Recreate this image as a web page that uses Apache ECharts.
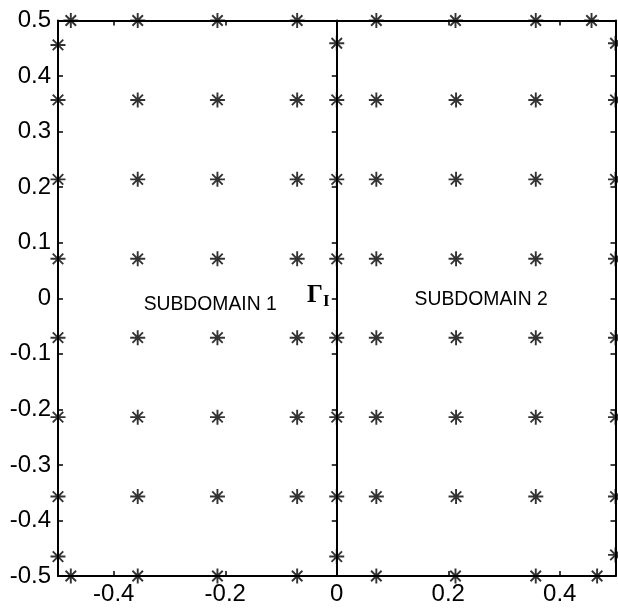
<!DOCTYPE html>
<html>
<head>
<meta charset="utf-8">
<script src="https://cdn.jsdelivr.net/npm/echarts@6/dist/echarts.min.js"></script>
<style>html,body{margin:0;padding:0;background:#fff}#c{width:618px;height:609px}</style>
</head>
<body>
<div id="c"></div>
<script>
// ---- data ----
const xTickValues = [-0.4, -0.2, 0, 0.2, 0.4];
const gridX = [-0.357, -0.214, -0.071, 0.071, 0.214, 0.357];
const gridY = [0.357, 0.214, 0.071, -0.071, -0.214, -0.357];
const topRowX = [-0.477, -0.357, -0.214, -0.071, 0.071, 0.213, 0.357, 0.457];   // at y = 0.5
const bottomRowX = [-0.477, -0.357, -0.214, -0.071, 0.071, 0.213, 0.357, 0.467]; // at y = -0.5
const leftColY = [0.456, 0.357, 0.214, 0.071, -0.071, -0.214, -0.357, -0.465];  // at x = -0.5
const midColY = [0.459, 0.357, 0.214, 0.071, -0.071, -0.214, -0.357, -0.465];   // at x = 0
const rightColY = [0.459, 0.357, 0.214, 0.071, -0.071, -0.214, -0.357, -0.462]; // at x = 0.5
const labels = [
  { text: 'SUBDOMAIN 1', x: -0.227, y: -0.01 },
  { text: 'SUBDOMAIN 2', x: 0.259, y: -0.001 }
];
const gammaPos = { x: -0.013, y: 0.004 };

// ---- build points ----
const points = [];
gridX.forEach(x => gridY.forEach(y => points.push([x, y])));
topRowX.forEach(x => points.push([x, 0.5]));
bottomRowX.forEach(x => points.push([x, -0.5]));
leftColY.forEach(y => points.push([-0.5, y]));
midColY.forEach(y => points.push([0, y]));
rightColY.forEach(y => points.push([0.5, y]));

const FONT = '"Liberation Sans", Arial, sans-serif';
const lineStyle = { color: '#000', width: 2 };

const chart = echarts.init(document.getElementById('c'), null, { renderer: 'canvas' });
const option = {
  animation: false,
  backgroundColor: '#fff',
  grid: [
    { left: 58, right: 2.5, top: 20.5, bottom: 33 },
    { left: 58, width: 278.75, top: 20.5, bottom: 33 }
  ],
  xAxis: [
    {
      gridIndex: 0, type: 'value', position: 'bottom', min: -0.5, max: 0.5,
      axisLine: { show: true, onZero: false, lineStyle },
      axisTick: { show: true, inside: true, length: 5, customValues: xTickValues, lineStyle: { color: '#000', width: 1.5 } },
      axisLabel: { show: true, customValues: xTickValues, color: '#000', fontSize: 24, fontFamily: FONT, margin: 6 },
      splitLine: { show: false }
    },
    {
      gridIndex: 0, type: 'value', position: 'top', min: -0.5, max: 0.5,
      axisLine: { show: true, onZero: false, lineStyle },
      axisTick: { show: true, inside: true, length: 5, customValues: xTickValues, lineStyle: { color: '#000', width: 1.5 } },
      axisLabel: { show: false },
      splitLine: { show: false }
    },
    {
      gridIndex: 1, type: 'value', min: -0.5, max: 0, show: false
    }
  ],
  yAxis: [
    {
      gridIndex: 0, type: 'value', position: 'left', min: -0.5, max: 0.5, interval: 0.1,
      axisLine: { show: true, onZero: false, lineStyle },
      axisTick: { show: true, inside: true, length: 5, lineStyle: { color: '#000', width: 1.5 } },
      axisLabel: { show: true, color: '#000', fontSize: 24, fontFamily: FONT, margin: 7 },
      splitLine: { show: false }
    },
    {
      gridIndex: 0, type: 'value', position: 'right', min: -0.5, max: 0.5, interval: 0.1,
      axisLine: { show: true, onZero: false, lineStyle },
      axisTick: { show: true, inside: true, length: 5, lineStyle: { color: '#000', width: 1.5 } },
      axisLabel: { show: false },
      splitLine: { show: false }
    },
    {
      gridIndex: 1, type: 'value', position: 'right', min: -0.5, max: 0.5, interval: 0.1,
      axisLine: { show: true, onZero: false, lineStyle },
      axisTick: { show: true, inside: true, length: 5, lineStyle: { color: '#000', width: 1.5 } },
      axisLabel: { show: false },
      splitLine: { show: false }
    }
  ],
  series: [{
    type: 'scatter',
    xAxisIndex: 0, yAxisIndex: 0,
    data: points,
    symbol: 'path://M8,0L8,16M0,8L16,8M2.4,2.4L13.6,13.6M2.4,13.6L13.6,2.4',
    symbolSize: 15,
    itemStyle: { color: 'rgba(0,0,0,0)', borderColor: '#000', borderWidth: 1.9 },
    emphasis: { disabled: true },
    clip: false,
    z: 5
  }]
};
chart.setOption(option);

const g = [];
labels.forEach(l => {
  const p = chart.convertToPixel({ gridIndex: 0 }, [l.x, l.y]);
  g.push({
    type: 'text', x: p[0], y: p[1], scaleX: 0.92,
    style: { text: l.text, font: '21px ' + FONT, fill: '#000', align: 'center', verticalAlign: 'middle' },
    z: 10
  });
});
const gp = chart.convertToPixel({ gridIndex: 0 }, [gammaPos.x, gammaPos.y]);
g.push({
  type: 'text', x: gp[0], y: gp[1],
  style: {
    text: '{g|Γ}{s|I}',
    align: 'right', verticalAlign: 'middle',
    rich: {
      g: { font: 'bold 25px "Liberation Serif", "DejaVu Serif", serif', fill: '#000' },
      s: { font: 'bold 17px "Liberation Serif", "DejaVu Serif", serif', fill: '#000', padding: [12, 0, 0, 0] }
    }
  },
  z: 10
});
chart.setOption({ graphic: g });
</script>
</body>
</html>
